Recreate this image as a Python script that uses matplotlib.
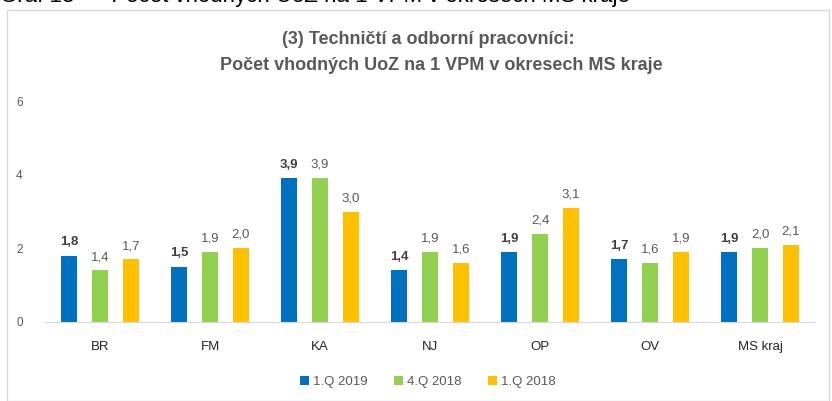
import matplotlib
matplotlib.use("Agg")
import matplotlib.pyplot as plt
import numpy as np
from matplotlib.patches import Rectangle

plt.rcParams['font.family'] = ['Liberation Sans', 'DejaVu Sans']

categories = ["BR", "FM", "KA", "NJ", "OP", "OV", "MS kraj"]
q1_2019 = [1.8, 1.5, 3.9, 1.4, 1.9, 1.7, 1.9]
q4_2018 = [1.4, 1.9, 3.9, 1.9, 2.4, 1.6, 2.0]
q1_2018 = [1.7, 2.0, 3.0, 1.6, 3.1, 1.9, 2.1]
series_names = ["1.Q 2019", "4.Q 2018", "1.Q 2018"]
colors = ["#0070C0", "#92D050", "#FFC000"]
yticks = [0, 2, 4, 6]

fig = plt.figure(figsize=(8.32, 4.01), dpi=100)
fig.patch.set_facecolor("white")

# caption cut off at top
fig.text(0.0, 1.008, "Graf 18  \u2013  Počet vhodných UoZ na 1 VPM v okresech MS kraje",
         fontsize=16, ha="left", va="center", color="black")
# chart border
fig.patches.append(Rectangle((7/832, 0.0), 822/832, 1 - 10/401, transform=fig.transFigure,
                             fill=False, edgecolor="#D9D9D9", linewidth=1))

ax = fig.add_axes([45/832, 1 - 322/401, 770/832, (322 - 101)/401])
x = np.arange(len(categories))
w = 0.145
off = 0.28
for i, (vals, name, c) in enumerate(zip([q1_2019, q4_2018, q1_2018], series_names, colors)):
    xs = x + (i - 1) * off
    ax.bar(xs, vals, width=w, color=c, label=name, zorder=2)
    for xv, v in zip(xs, vals):
        ax.text(xv, v + 0.2, f"{v:.1f}".replace(".", ","), ha="center", va="bottom",
                fontsize=9.5, color="#404040" if i == 0 else "#595959",
                fontweight="bold" if i == 0 else "normal")

ax.set_xlim(-0.5, len(categories) - 0.5)
ax.set_ylim(0, 6)
ax.set_yticks(yticks)
ax.set_yticklabels([str(t) for t in yticks], fontsize=8.5, color="#595959")
ax.set_xticks(x)
ax.set_xticklabels(categories, fontsize=9.5, color="#262626")
for s in ["top", "right", "left"]:
    ax.spines[s].set_visible(False)
ax.spines["bottom"].set_color("#D9D9D9")
ax.tick_params(axis="both", length=0)
ax.tick_params(axis="y", pad=16)
ax.tick_params(axis="x", pad=14)

fig.text(428/832, 1 - 40/401, "(3) Techničtí a odborní pracovníci:", ha="center", va="center",
         fontsize=13, fontweight="bold", color="#595959")
fig.text(441/832, 1 - 65/401, "Počet vhodných UoZ na 1 VPM v okresech MS kraje", ha="center", va="center",
         fontsize=13, fontweight="bold", color="#595959")

leg = fig.legend(loc="center", bbox_to_anchor=(428/832, 1 - 382/401), ncol=3, frameon=False,
                 fontsize=9.5, handlelength=0.7, handleheight=0.7, handletextpad=0.3,
                 columnspacing=2.0)
for t in leg.get_texts():
    t.set_color("#595959")

fig.savefig("out.png", dpi=100, facecolor="white")
